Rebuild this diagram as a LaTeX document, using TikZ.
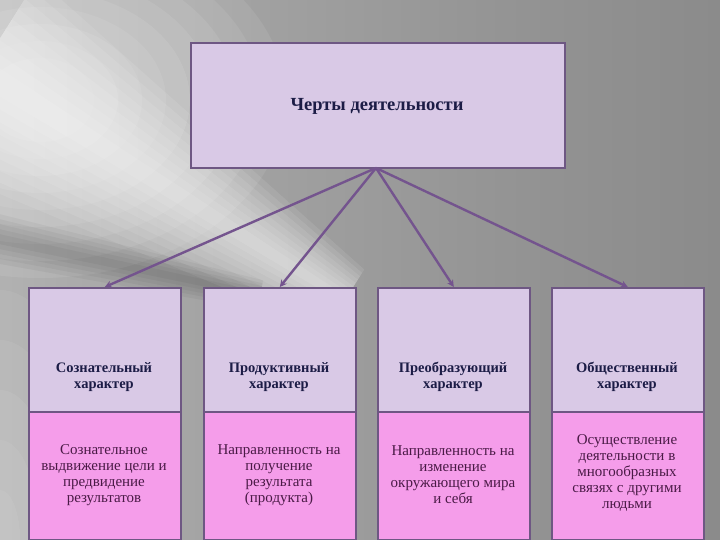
\documentclass[tikz,border=0pt]{standalone}
\usepackage{fontspec}
\setmainfont{Liberation Serif}
\usetikzlibrary{arrows.meta,calc}
\definecolor{lav}{HTML}{D9C9E6}
\definecolor{pinkb}{HTML}{F59DEA}
\definecolor{bord}{HTML}{6E5783}
\definecolor{arr}{HTML}{74548E}
\definecolor{headtxt}{HTML}{1C1C46}
\definecolor{bodytxt}{HTML}{4A1A46}
\definecolor{bgA}{HTML}{D2D2D2}
\definecolor{bgB}{HTML}{ABABAB}
\definecolor{bgC}{HTML}{949494}
\definecolor{bgD}{HTML}{7C7C7C}
\pgfdeclarehorizontalshading{bgshade}{100bp}{color(0bp)=(bgA); color(30bp)=(bgB); color(60bp)=(bgC); color(100bp)=(bgD)}
\tikzset{
  box/.style={draw=bord,line width=1.6pt,fill=lav,inner sep=0pt},
  pbox/.style={draw=bord,line width=1.6pt,fill=pinkb,inner sep=0pt},
  htext/.style={font=\fontsize{14.5}{16}\selectfont\bfseries,text=headtxt,align=center},
  btext/.style={font=\fontsize{15}{16}\selectfont,text=bodytxt,align=center},
  link/.style={draw=arr,line width=2.4pt,-{Stealth[length=7pt,width=7pt]}}
}
\begin{document}
\begin{tikzpicture}[x=1pt,y=-1pt]
\useasboundingbox (0,0) rectangle (720,540);
\shade[shading=bgshade] (0,0) rectangle (720,540);
% broad glow in the upper left
\foreach \k in {1,...,9}{
  \fill[white,opacity=0.08] (40,100) ellipse [x radius={30+24*\k}, y radius={25+17*\k}];
}
% soft light beam
\coordinate (A) at (-20,70);
\coordinate (B) at (345,300);
\coordinate (P) at (-0.534,0.847);
\foreach \k in {1,...,9}{
  \fill[white,opacity=0.09]
    ($(A)+{12*\k}*(P)$) -- ($(A)-{12*\k}*(P)$) -- ($(B)-{4*\k}*(P)$) -- ($(B)+{4*\k}*(P)$) -- cycle;
}
% darker streak below the beam
\coordinate (C) at (-20,235);
\coordinate (D) at (260,295);
\coordinate (Q) at (-0.21,0.98);
\foreach \k in {1,...,5}{
  \fill[black,opacity=0.04]
    ($(C)+{5*\k}*(Q)$) -- ($(C)-{5*\k}*(Q)$) -- ($(D)-{3*\k}*(Q)$) -- ($(D)+{3*\k}*(Q)$) -- cycle;
}
% lighter lower-left region
\foreach \k in {1,...,5}{
  \fill[white,opacity=0.06] (0,540) ellipse [x radius={20*\k}, y radius={50*\k}];
}
% top
\node[box,minimum width=374pt,minimum height=125pt,anchor=north west] (top) at (190,42) {};
\node[htext,font=\fontsize{18.5}{20}\selectfont\bfseries] (toptext) at (377,106) {Черты деятельности};
\coordinate (src) at (376,168);
% bottom boxes
\foreach \i/\x in {1/28,2/203,3/377,4/551}{
  \node[box,minimum width=152pt,minimum height=124pt,anchor=north west] (h\i) at (\x,287) {};
  \node[pbox,minimum width=152pt,minimum height=128pt,anchor=north west] (p\i) at (\x,411) {};
}
\node[htext] (t1) at (104,377) {Сознательный\\характер};
\node[htext] (t2) at (279,377) {Продуктивный\\характер};
\node[htext] (t3) at (453,377) {Преобразующий\\характер};
\node[htext] (t4) at (627,377) {Общественный\\характер};
\node[btext] (b1) at (104,475) {Сознательное\\выдвижение цели и\\предвидение\\результатов};
\node[btext] (b2) at (279,475) {Направленность на\\получение\\результата\\(продукта)};
\node[btext] (b3) at (453,475) {Направленность на\\изменение\\окружающего мира\\и себя};
\node[btext] (b4) at (627,473) {Осуществление\\деятельности в\\многообразных\\связях с другими\\людьми};
% arrows
\foreach \i in {1,2,3,4}{\draw[link] (src) -- (h\i.north);}
\end{tikzpicture}
\end{document}
